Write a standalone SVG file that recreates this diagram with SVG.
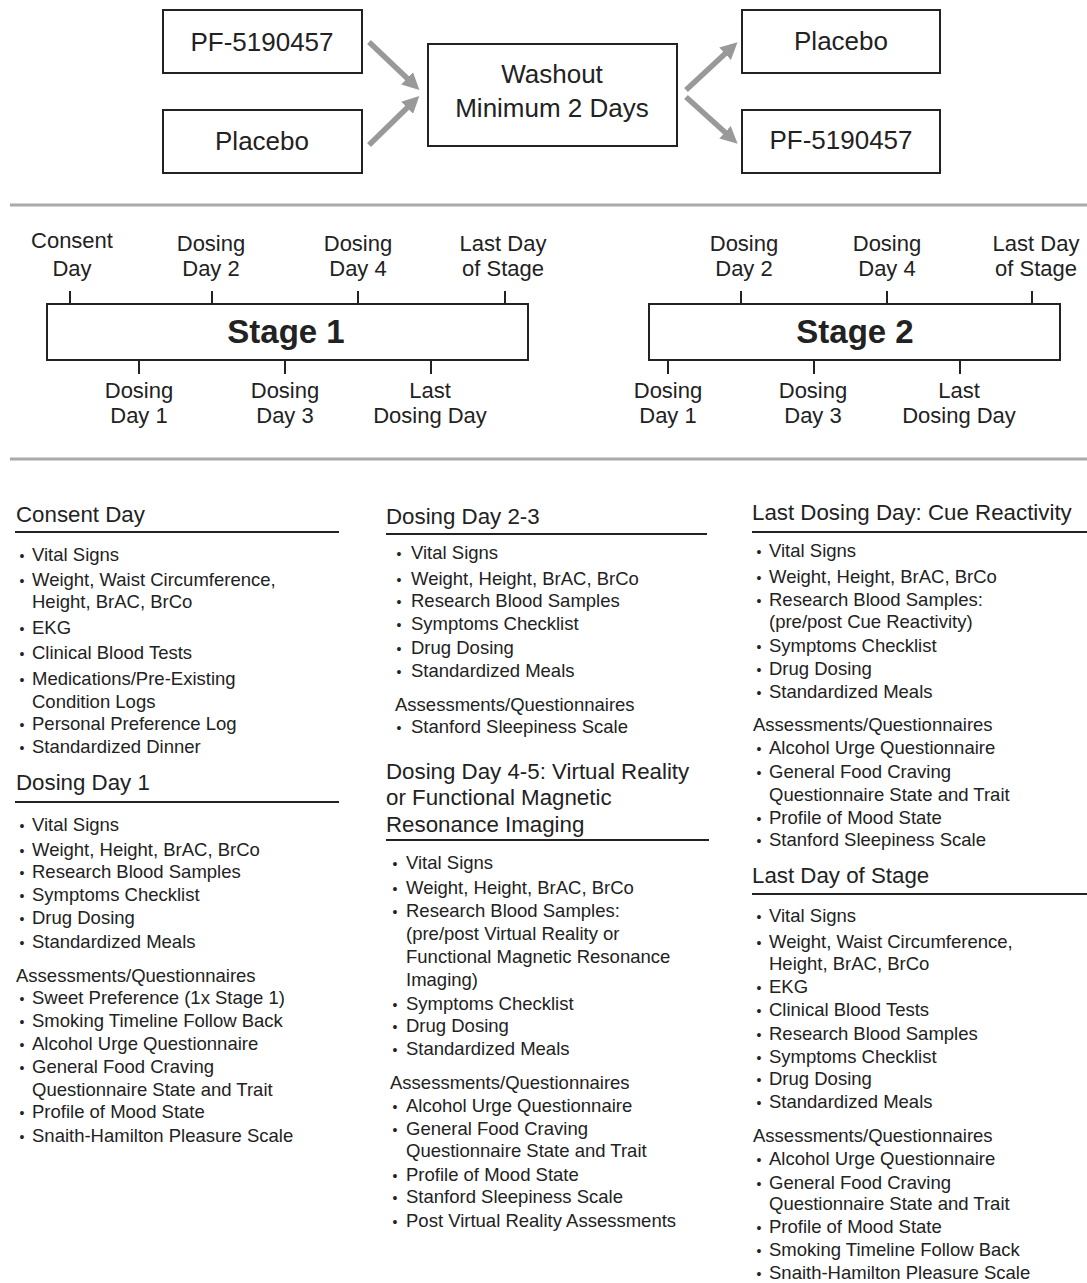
<svg xmlns="http://www.w3.org/2000/svg" width="1087" height="1283" viewBox="0 0 1087 1283">
<style>
text{font-family:"Liberation Sans",Arial,sans-serif;fill:#222;}
.box{fill:#fff;stroke:#222;stroke-width:2;}
.big{font-size:26px;text-anchor:middle;}
.tl{font-size:22px;text-anchor:middle;}
.stage{font-size:33px;font-weight:bold;text-anchor:middle;}
.tick{stroke:#222;stroke-width:2;}
.sep{stroke:#aaa;stroke-width:3;}
.ul{stroke:#222;stroke-width:2;}
.arrow{stroke:#999;stroke-width:5.5;fill:none;}
.h{font-size:22.3px;}
.i{font-size:18.5px;}
.b{font-size:14px;text-anchor:middle;}
</style>
<defs>
<marker id="ah" markerUnits="userSpaceOnUse" markerWidth="18" markerHeight="17" refX="4" refY="8.5" orient="auto" viewBox="0 0 18 17">
<path d="M0,0 L17,8.5 L0,17 z" fill="#999"/>
</marker>
</defs>
<rect width="1087" height="1283" fill="#fff"/>

<g id="pf-left"><rect class="box" x="163" y="10" width="199" height="63"/><text class="big" x="262" y="51">PF-5190457</text></g>
<g id="placebo-left"><rect class="box" x="163" y="110" width="199" height="63"/><text class="big" x="262" y="150">Placebo</text></g>
<g id="washout"><rect class="box" x="428" y="44" width="249" height="102"/><text class="big" x="552" y="83">Washout</text><text class="big" x="552" y="117">Minimum 2 Days</text></g>
<g id="placebo-right"><rect class="box" x="742" y="10" width="198" height="63"/><text class="big" x="841" y="50">Placebo</text></g>
<g id="pf-right"><rect class="box" x="742" y="110" width="198" height="63"/><text class="big" x="841" y="149">PF-5190457</text></g>

<g id="connectors">
<line class="arrow" x1="369" y1="42" x2="410" y2="81" marker-end="url(#ah)"/>
<line class="arrow" x1="369" y1="145" x2="410" y2="105" marker-end="url(#ah)"/>
<line class="arrow" x1="686" y1="90" x2="728" y2="51" marker-end="url(#ah)"/>
<line class="arrow" x1="686" y1="97" x2="728" y2="135" marker-end="url(#ah)"/>
</g>

<g id="separators">
<line class="sep" x1="10" y1="205" x2="1087" y2="205"/>
<line class="sep" x1="10" y1="459" x2="1087" y2="459"/>
</g>

<g id="stage1">
<rect class="box" x="47" y="304" width="481" height="56"/>
<text class="stage" x="286" y="343">Stage 1</text>
<line class="tick" x1="70" y1="291" x2="70" y2="304"/>
<line class="tick" x1="212" y1="291" x2="212" y2="304"/>
<line class="tick" x1="358" y1="291" x2="358" y2="304"/>
<line class="tick" x1="505" y1="291" x2="505" y2="304"/>
<line class="tick" x1="139" y1="360" x2="139" y2="374"/>
<line class="tick" x1="285" y1="360" x2="285" y2="374"/>
<line class="tick" x1="431" y1="360" x2="431" y2="374"/>
<text class="tl" x="72" y="248">Consent</text><text class="tl" x="72" y="276">Day</text>
<text class="tl" x="211" y="251">Dosing</text><text class="tl" x="211" y="276">Day 2</text>
<text class="tl" x="358" y="251">Dosing</text><text class="tl" x="358" y="276">Day 4</text>
<text class="tl" x="503" y="251">Last Day</text><text class="tl" x="503" y="276">of Stage</text>
<text class="tl" x="139" y="398">Dosing</text><text class="tl" x="139" y="423">Day 1</text>
<text class="tl" x="285" y="398">Dosing</text><text class="tl" x="285" y="423">Day 3</text>
<text class="tl" x="430" y="398">Last</text><text class="tl" x="430" y="423">Dosing Day</text>
</g>

<g id="stage2">
<rect class="box" x="649" y="304" width="411" height="56"/>
<text class="stage" x="855" y="343">Stage 2</text>
<line class="tick" x1="741" y1="291" x2="741" y2="304"/>
<line class="tick" x1="887" y1="291" x2="887" y2="304"/>
<line class="tick" x1="1032" y1="291" x2="1032" y2="304"/>
<line class="tick" x1="668" y1="360" x2="668" y2="374"/>
<line class="tick" x1="814" y1="360" x2="814" y2="374"/>
<line class="tick" x1="960" y1="360" x2="960" y2="374"/>
<text class="tl" x="744" y="251">Dosing</text><text class="tl" x="744" y="276">Day 2</text>
<text class="tl" x="887" y="251">Dosing</text><text class="tl" x="887" y="276">Day 4</text>
<text class="tl" x="1036" y="251">Last Day</text><text class="tl" x="1036" y="276">of Stage</text>
<text class="tl" x="668" y="398">Dosing</text><text class="tl" x="668" y="423">Day 1</text>
<text class="tl" x="813" y="398">Dosing</text><text class="tl" x="813" y="423">Day 3</text>
<text class="tl" x="959" y="398">Last</text><text class="tl" x="959" y="423">Dosing Day</text>
</g>

<g id="consent-day">
<text class="h" x="16" y="522">Consent Day</text>
<line class="ul" x1="15" y1="532" x2="339" y2="532"/>
<text class="b" x="22" y="561">•</text><text class="i" x="32" y="561">Vital Signs</text>
<text class="b" x="22" y="586">•</text><text class="i" x="32" y="586">Weight, Waist Circumference,</text>
<text class="i" x="32" y="608">Height, BrAC, BrCo</text>
<text class="b" x="22" y="634">•</text><text class="i" x="32" y="634">EKG</text>
<text class="b" x="22" y="659">•</text><text class="i" x="32" y="659">Clinical Blood Tests</text>
<text class="b" x="22" y="685">•</text><text class="i" x="32" y="685">Medications/Pre-Existing</text>
<text class="i" x="32" y="708">Condition Logs</text>
<text class="b" x="22" y="730">•</text><text class="i" x="32" y="730">Personal Preference Log</text>
<text class="b" x="22" y="753">•</text><text class="i" x="32" y="753">Standardized Dinner</text>
</g>

<g id="dosing-day-1">
<text class="h" x="16" y="790">Dosing Day 1</text>
<line class="ul" x1="15" y1="802" x2="339" y2="802"/>
<text class="b" x="22" y="831">•</text><text class="i" x="32" y="831">Vital Signs</text>
<text class="b" x="22" y="856">•</text><text class="i" x="32" y="856">Weight, Height, BrAC, BrCo</text>
<text class="b" x="22" y="878">•</text><text class="i" x="32" y="878">Research Blood Samples</text>
<text class="b" x="22" y="901">•</text><text class="i" x="32" y="901">Symptoms Checklist</text>
<text class="b" x="22" y="924">•</text><text class="i" x="32" y="924">Drug Dosing</text>
<text class="b" x="22" y="948">•</text><text class="i" x="32" y="948">Standardized Meals</text>
<text class="i" x="16" y="982">Assessments/Questionnaires</text>
<text class="b" x="22" y="1004">•</text><text class="i" x="32" y="1004">Sweet Preference (1x Stage 1)</text>
<text class="b" x="22" y="1027">•</text><text class="i" x="32" y="1027">Smoking Timeline Follow Back</text>
<text class="b" x="22" y="1050">•</text><text class="i" x="32" y="1050">Alcohol Urge Questionnaire</text>
<text class="b" x="22" y="1073">•</text><text class="i" x="32" y="1073">General Food Craving</text>
<text class="i" x="32" y="1096">Questionnaire State and Trait</text>
<text class="b" x="22" y="1118">•</text><text class="i" x="32" y="1118">Profile of Mood State</text>
<text class="b" x="22" y="1142">•</text><text class="i" x="32" y="1142">Snaith-Hamilton Pleasure Scale</text>
</g>

<g id="dosing-day-2-3">
<text class="h" x="386" y="524">Dosing Day 2-3</text>
<line class="ul" x1="386" y1="534" x2="707" y2="534"/>
<text class="b" x="399" y="559">•</text><text class="i" x="411" y="559">Vital Signs</text>
<text class="b" x="399" y="585">•</text><text class="i" x="411" y="585">Weight, Height, BrAC, BrCo</text>
<text class="b" x="399" y="607">•</text><text class="i" x="411" y="607">Research Blood Samples</text>
<text class="b" x="399" y="630">•</text><text class="i" x="411" y="630">Symptoms Checklist</text>
<text class="b" x="399" y="654">•</text><text class="i" x="411" y="654">Drug Dosing</text>
<text class="b" x="399" y="677">•</text><text class="i" x="411" y="677">Standardized Meals</text>
<text class="i" x="395" y="711">Assessments/Questionnaires</text>
<text class="b" x="399" y="733">•</text><text class="i" x="411" y="733">Stanford Sleepiness Scale</text>
</g>

<g id="dosing-day-4-5">
<text class="h" x="386" y="779">Dosing Day 4-5: Virtual Reality</text>
<text class="h" x="386" y="805">or Functional Magnetic</text>
<text class="h" x="386" y="832">Resonance Imaging</text>
<line class="ul" x1="386" y1="840" x2="709" y2="840"/>
<text class="b" x="395" y="869">•</text><text class="i" x="406" y="869">Vital Signs</text>
<text class="b" x="395" y="894">•</text><text class="i" x="406" y="894">Weight, Height, BrAC, BrCo</text>
<text class="b" x="395" y="917">•</text><text class="i" x="406" y="917">Research Blood Samples:</text>
<text class="i" x="406" y="940">(pre/post Virtual Reality or</text>
<text class="i" x="406" y="963">Functional Magnetic Resonance</text>
<text class="i" x="406" y="986">Imaging)</text>
<text class="b" x="395" y="1010">•</text><text class="i" x="406" y="1010">Symptoms Checklist</text>
<text class="b" x="395" y="1032">•</text><text class="i" x="406" y="1032">Drug Dosing</text>
<text class="b" x="395" y="1055">•</text><text class="i" x="406" y="1055">Standardized Meals</text>
<text class="i" x="390" y="1089">Assessments/Questionnaires</text>
<text class="b" x="395" y="1112">•</text><text class="i" x="406" y="1112">Alcohol Urge Questionnaire</text>
<text class="b" x="395" y="1135">•</text><text class="i" x="406" y="1135">General Food Craving</text>
<text class="i" x="406" y="1157">Questionnaire State and Trait</text>
<text class="b" x="395" y="1181">•</text><text class="i" x="406" y="1181">Profile of Mood State</text>
<text class="b" x="395" y="1203">•</text><text class="i" x="406" y="1203">Stanford Sleepiness Scale</text>
<text class="b" x="395" y="1227">•</text><text class="i" x="406" y="1227">Post Virtual Reality Assessments</text>
</g>

<g id="last-dosing-day">
<text class="h" x="752" y="520">Last Dosing Day: Cue Reactivity</text>
<line class="ul" x1="752" y1="532" x2="1087" y2="532"/>
<text class="b" x="759" y="557">•</text><text class="i" x="769" y="557">Vital Signs</text>
<text class="b" x="759" y="583">•</text><text class="i" x="769" y="583">Weight, Height, BrAC, BrCo</text>
<text class="b" x="759" y="606">•</text><text class="i" x="769" y="606">Research Blood Samples:</text>
<text class="i" x="769" y="628">(pre/post Cue Reactivity)</text>
<text class="b" x="759" y="652">•</text><text class="i" x="769" y="652">Symptoms Checklist</text>
<text class="b" x="759" y="675">•</text><text class="i" x="769" y="675">Drug Dosing</text>
<text class="b" x="759" y="698">•</text><text class="i" x="769" y="698">Standardized Meals</text>
<text class="i" x="753" y="731">Assessments/Questionnaires</text>
<text class="b" x="759" y="754">•</text><text class="i" x="769" y="754">Alcohol Urge Questionnaire</text>
<text class="b" x="759" y="778">•</text><text class="i" x="769" y="778">General Food Craving</text>
<text class="i" x="769" y="801">Questionnaire State and Trait</text>
<text class="b" x="759" y="824">•</text><text class="i" x="769" y="824">Profile of Mood State</text>
<text class="b" x="759" y="846">•</text><text class="i" x="769" y="846">Stanford Sleepiness Scale</text>
</g>

<g id="last-day-of-stage">
<text class="h" x="752" y="883">Last Day of Stage</text>
<line class="ul" x1="752" y1="894" x2="1087" y2="894"/>
<text class="b" x="759" y="922">•</text><text class="i" x="769" y="922">Vital Signs</text>
<text class="b" x="759" y="948">•</text><text class="i" x="769" y="948">Weight, Waist Circumference,</text>
<text class="i" x="769" y="970">Height, BrAC, BrCo</text>
<text class="b" x="759" y="993">•</text><text class="i" x="769" y="993">EKG</text>
<text class="b" x="759" y="1016">•</text><text class="i" x="769" y="1016">Clinical Blood Tests</text>
<text class="b" x="759" y="1040">•</text><text class="i" x="769" y="1040">Research Blood Samples</text>
<text class="b" x="759" y="1063">•</text><text class="i" x="769" y="1063">Symptoms Checklist</text>
<text class="b" x="759" y="1085">•</text><text class="i" x="769" y="1085">Drug Dosing</text>
<text class="b" x="759" y="1108">•</text><text class="i" x="769" y="1108">Standardized Meals</text>
<text class="i" x="753" y="1142">Assessments/Questionnaires</text>
<text class="b" x="759" y="1165">•</text><text class="i" x="769" y="1165">Alcohol Urge Questionnaire</text>
<text class="b" x="759" y="1189">•</text><text class="i" x="769" y="1189">General Food Craving</text>
<text class="i" x="769" y="1210">Questionnaire State and Trait</text>
<text class="b" x="759" y="1233">•</text><text class="i" x="769" y="1233">Profile of Mood State</text>
<text class="b" x="759" y="1256">•</text><text class="i" x="769" y="1256">Smoking Timeline Follow Back</text>
<text class="b" x="759" y="1279">•</text><text class="i" x="769" y="1279">Snaith-Hamilton Pleasure Scale</text>
</g>
</svg>
